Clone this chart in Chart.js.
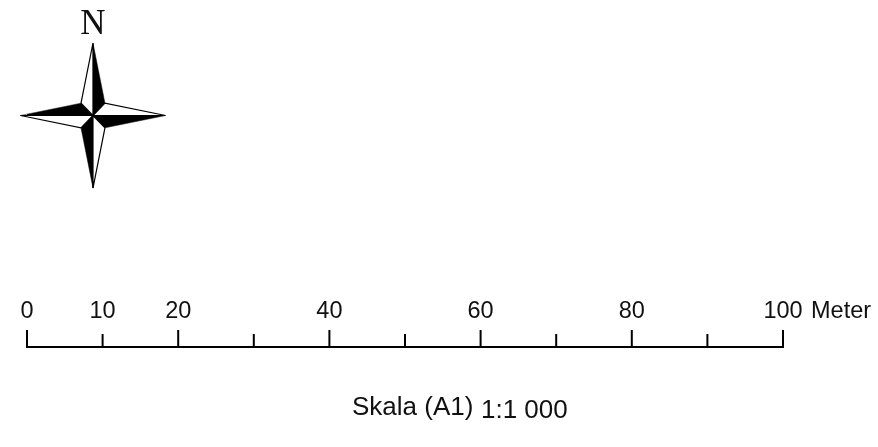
<!DOCTYPE html>
<html>
<head>
<meta charset="utf-8">
<title>Skala</title>
<script src="https://cdn.jsdelivr.net/npm/chart.js@4"></script>
<style>
  html, body { margin: 0; background: #fff; }
  canvas { display: block; }
</style>
</head>
<body>
<canvas id="scale" width="878" height="447"></canvas>
<script>
// scale bar, in meters
const tickValues = [0, 10, 20, 30, 40, 50, 60, 70, 80, 90, 100];
const tickHeights = [17, 13, 17, 13, 17, 13, 17, 13, 17, 13, 17];
const tickLabels = ["0", "10", "20", "", "40", "", "60", "", "80", "", "100"];
const unitLabel = "Meter";
const scaleName = "Skala (A1)";
const scaleRatio = "1:1 000";
const northLabel = "N";

// north arrow, arm length = 1
const blackVanes = [
  [[0, 1], [0.165, 0.17], [0, 0]],
  [[1, 0], [0.165, -0.17], [0, 0]],
  [[0, -1], [-0.165, -0.17], [0, 0]],
  [[-1, 0], [-0.165, 0.17], [0, 0]]
];
const whiteVanes = [
  [[0, 1], [-0.165, 0.17], [0, 0]],
  [[1, 0], [0.165, 0.17], [0, 0]],
  [[0, -1], [0.165, -0.17], [0, 0]],
  [[-1, 0], [-0.165, -0.17], [0, 0]]
];

const sans = '"Liberation Sans", Arial, sans-serif';

function vane(points, fillColor, lineWidth) {
  const data = points.concat([points[0]]).map(function (p) {
    return { x: p[0], y: p[1] };
  });
  return {
    type: "scatter",
    data: data,
    xAxisID: "arrowX",
    yAxisID: "arrowY",
    showLine: true,
    fill: "shape",
    backgroundColor: fillColor,
    borderColor: "#000",
    borderWidth: lineWidth,
    borderJoinStyle: "miter",
    pointRadius: 0,
    tension: 0,
    clip: false
  };
}

const tickSegments = [];
for (let i = 0; i < tickValues.length; i++) {
  tickSegments.push({ x: tickValues[i], y: 0 });
  tickSegments.push({ x: tickValues[i], y: tickHeights[i] });
  tickSegments.push({ x: tickValues[i], y: null });
}

const barDatasets = [
  {
    type: "scatter",
    data: [{ x: tickValues[0], y: 0 }, { x: tickValues[tickValues.length - 1], y: 0 }],
    showLine: true,
    borderColor: "#000",
    borderWidth: 2,
    borderCapStyle: "square",
    pointRadius: 0,
    clip: false
  },
  {
    type: "scatter",
    data: tickSegments,
    showLine: true,
    spanGaps: false,
    borderColor: "#000",
    borderWidth: 2,
    pointRadius: 0,
    clip: false
  }
];

const whiteSets = whiteVanes.map(function (v) { return vane(v, "#fff", 1.2); });
const blackSets = blackVanes.map(function (v) { return vane(v, "#000", 0.5); });

// labels that are not on the axis
const extraText = {
  id: "extraText",
  afterDraw: function (chart) {
    const ctx = chart.ctx;
    const x = chart.scales.x;
    ctx.save();
    ctx.fillStyle = "#111";
    ctx.textBaseline = "alphabetic";
    ctx.textAlign = "left";
    ctx.font = "23.5px " + sans;
    ctx.fillText(unitLabel, x.getPixelForValue(100) + 28, 318);
    ctx.font = "26px " + sans;
    ctx.fillText(scaleName, 352, 415);
    ctx.fillText(scaleRatio, 481, 418);
    ctx.textAlign = "center";
    ctx.font = '35px "Liberation Serif", "Times New Roman", serif';
    ctx.fillText(northLabel, 93, 34);
    ctx.restore();
  }
};

new Chart(document.getElementById("scale"), {
  data: { datasets: barDatasets.concat(whiteSets, blackSets) },
  options: {
    responsive: false,
    animation: false,
    layout: { padding: { left: 27, right: 95, top: 0, bottom: 0 } },
    plugins: { legend: { display: false }, tooltip: { enabled: false } },
    scales: {
      x: {
        type: "linear",
        position: { y: 50 },
        min: 0,
        max: 100,
        grid: { display: false, drawTicks: false },
        border: { display: false },
        afterFit: function (scale) {
          scale.paddingLeft = 0;
          scale.paddingRight = 0;
        },
        ticks: {
          stepSize: 10,
          autoSkip: false,
          maxRotation: 0,
          padding: 0,
          color: "#111",
          font: { family: sans, size: 23.5 },
          callback: function (value) {
            const i = tickValues.indexOf(value);
            return i < 0 ? "" : tickLabels[i];
          }
        }
      },
      y: { type: "linear", display: false, min: -100, max: 347 },
      arrowX: { type: "linear", display: false, axis: "x", min: -0.91, max: 9.517 },
      arrowY: { type: "linear", display: false, axis: "y", min: -4.572, max: 1.593 }
    }
  },
  plugins: [extraText]
});
</script>
</body>
</html>
